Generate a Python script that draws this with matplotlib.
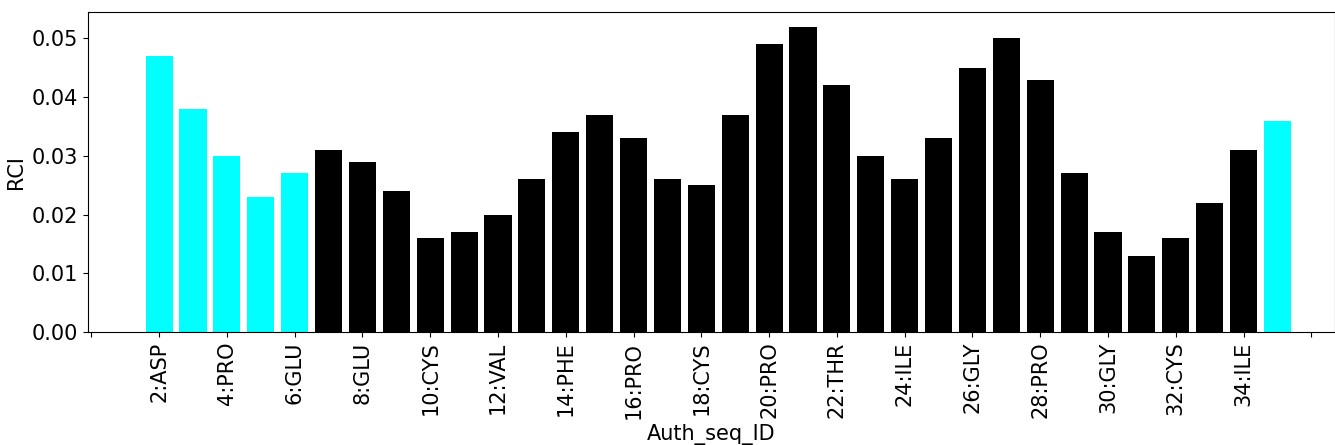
import numpy as np
import matplotlib
matplotlib.use("Agg")
import matplotlib.pyplot as plt

# ─── Data ─────────────────────────────────────────────────────────────────────
residues = list(range(2, 36))
rci = [0.047, 0.038, 0.030, 0.023, 0.027, 0.031, 0.029, 0.024, 0.016, 0.017,
       0.020, 0.026, 0.034, 0.037, 0.033, 0.026, 0.025, 0.037, 0.049, 0.052,
       0.042, 0.030, 0.026, 0.033, 0.045, 0.050, 0.043, 0.027, 0.017, 0.013,
       0.016, 0.022, 0.031, 0.036]
flagged = [2, 3, 4, 5, 6, 35]   # drawn in cyan

tick_pos = list(range(0, 37, 2))
tick_labels = ["", "2:ASP", "4:PRO", "6:GLU", "8:GLU", "10:CYS", "12:VAL",
               "14:PHE", "16:PRO", "18:CYS", "20:PRO", "22:THR", "24:ILE",
               "26:GLY", "28:PRO", "30:GLY", "32:CYS", "34:ILE", ""]

FONT_SIZE = 15

# ─── Figure ───────────────────────────────────────────────────────────────────
fig = plt.figure(figsize=(13.35, 4.45), dpi=100)
ax = fig.add_axes([88 / 1335, 1 - 332 / 445, (1335 - 88) / 1335, (332 - 12) / 445])

colors = ["cyan" if r in flagged else "black" for r in residues]
ax.bar(residues, rci, width=0.8, color=colors)

ax.set_xticks(tick_pos)
ax.set_xticklabels(tick_labels, rotation=90, fontsize=FONT_SIZE)
ax.set_xlim(-0.1, 36.7)
ax.set_ylim(0, 0.0545)
ax.set_yticks(np.arange(0, 0.051, 0.01))
ax.set_yticklabels([f"{v:.2f}" for v in np.arange(0, 0.051, 0.01)])
ax.tick_params(axis="y", labelsize=FONT_SIZE)
ax.set_xlabel("Auth_seq_ID", fontsize=FONT_SIZE)
ax.set_ylabel("RCI", fontsize=FONT_SIZE)

fig.savefig("out.png", dpi=100)
